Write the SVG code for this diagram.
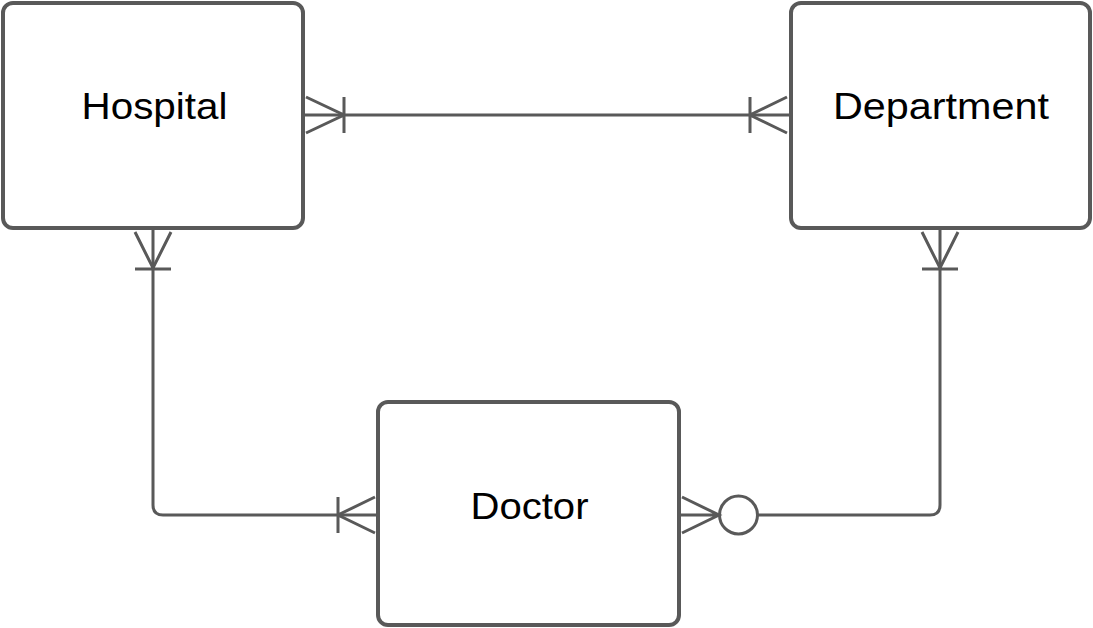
<svg xmlns="http://www.w3.org/2000/svg" width="1093" height="628" viewBox="0 0 1093 628">
<style>
.box{fill:#fff;stroke:#595959;stroke-width:4}
.ln{fill:none;stroke:#595959;stroke-width:3}
.lbl{font-family:"Liberation Sans",Arial,sans-serif;font-size:37px;fill:#000;text-anchor:middle}
</style>
<rect width="1093" height="628" fill="#fff"/>
<g id="hospital">
<rect class="box" x="3" y="3" width="300" height="225" rx="10"/>
<text class="lbl" x="154.5" y="119" textLength="146" lengthAdjust="spacingAndGlyphs">Hospital</text>
</g>
<g id="department">
<rect class="box" x="791" y="3" width="299" height="225" rx="10"/>
<text class="lbl" x="941" y="119" textLength="216" lengthAdjust="spacingAndGlyphs">Department</text>
</g>
<g id="doctor">
<rect class="box" x="378" y="402" width="301" height="223" rx="10"/>
<text class="lbl" x="529.5" y="519" textLength="118" lengthAdjust="spacingAndGlyphs">Doctor</text>
</g>
<g id="connectors">
<path class="ln" d="M305,115 H789"/>
<path class="ln" d="M306,97 L344,115 L306,133 M344,97 V133"/>
<path class="ln" d="M787,97 L750,115 L787,133 M750,97 V133"/>
<path class="ln" d="M153,230 V505 Q153,515 163,515 H376"/>
<path class="ln" d="M135,232 L153,268 L171,232 M135,269 H171"/>
<path class="ln" d="M375,497 L338,515 L375,533 M338,497 V533"/>
<path class="ln" d="M940,230 V505 Q940,515 930,515 H757"/>
<path class="ln" d="M922,232 L940,268 L958,232 M922,269 H958"/>
<path class="ln" d="M681,515 H719 M682,497 L719,515 L682,533"/>
<circle class="ln" cx="738.5" cy="515" r="19"/>
</g>
</svg>
